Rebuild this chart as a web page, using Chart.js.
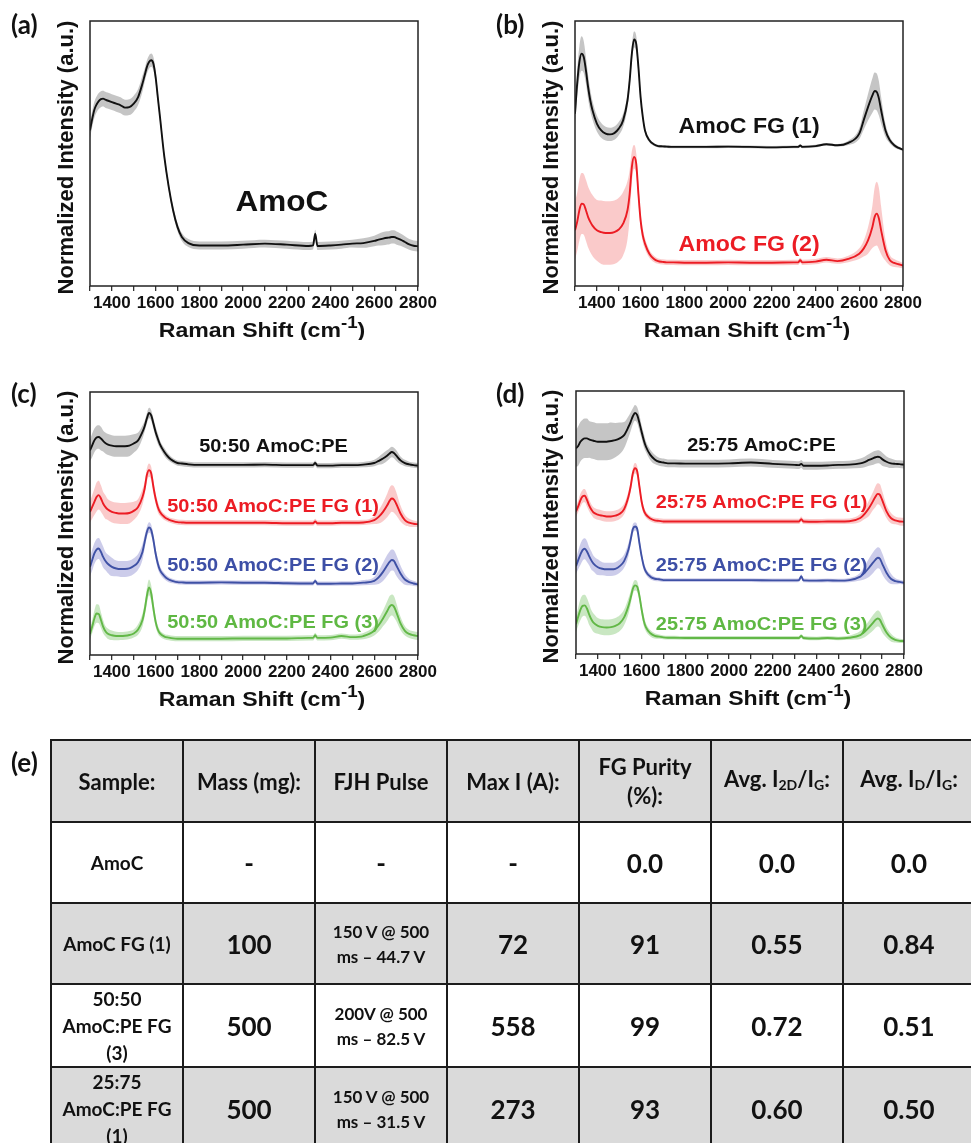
<!DOCTYPE html>
<html>
<head>
<meta charset="utf-8">
<script src="https://cdn.jsdelivr.net/npm/chart.js@4.4.1/dist/chart.umd.min.js"></script>
<style>
  html, body { margin: 0; padding: 0; background: #fff; }
  body { width: 971px; height: 1143px; position: relative; overflow: hidden; }
  .panel { position: absolute; }
  .panel canvas { display: block; }
  #tableWrap { position: absolute; left: 0; top: 700px; width: 971px; height: 443px; overflow: hidden; }
  #tableLetter { position: absolute; left: 11px; top: 46px; font: bold 26px Lato, "Open Sans", sans-serif; color: #111; }
  #summary { position: absolute; left: 50px; top: 39px; border-collapse: collapse; table-layout: fixed; width: 924px;
             font-family: Lato, "Open Sans", sans-serif; font-weight: bold; color: #111; }
  #summary col { width: 132px; }
  #summary td, #summary th { border: 2px solid #1c1c1c; text-align: center; vertical-align: middle; padding: 0;
             white-space: pre-line; overflow: hidden; }
  #summary tr { height: 81px; }
  #summary tr.head { height: 82px; }
  #summary tr.shade { background: #dadada; }
  #summary th { font-size: 22px; font-weight: bold; line-height: 29px; }
  #summary th sub { font-size: 14px; vertical-align: -3px; }
  .name { font-size: 19px; line-height: 27px; }
  .big { font-size: 26px; }
  .small { font-size: 17px; line-height: 25px; }
</style>
</head>
<body>
<div class="panel" style="left:0;top:0"><canvas id="pa" width="485" height="340"></canvas></div>
<div class="panel" style="left:485px;top:0"><canvas id="pb" width="486" height="340"></canvas></div>
<div class="panel" style="left:0;top:340px"><canvas id="pc" width="485" height="380"></canvas></div>
<div class="panel" style="left:485px;top:340px"><canvas id="pd" width="486" height="380"></canvas></div>
<div id="tableWrap">
  <div id="tableLetter">(e)</div>
  <table id="summary"></table>
</div>
<script>
// Raman shift grid (cm^-1), dense around the D, G and 2D bands
const shift = [
  1300, 1310, 1320, 1330, 1340, 1350, 1360, 1370, 1380,
  1400, 1420, 1440, 1460, 1480, 1500, 1520, 1540,
  1550, 1560, 1570, 1580, 1590, 1600, 1610,
  1620, 1640, 1660, 1680, 1700, 1720,
  1750, 1800, 1900, 2000, 2100, 2200, 2300,
  2320, 2330, 2340,
  2400, 2450, 2500, 2550, 2600,
  2620, 2640, 2660,
  2670, 2680, 2690, 2700,
  2720, 2740, 2760, 2780, 2800
];
const xTicks = [1400, 1600, 1800, 2000, 2200, 2400, 2600, 2800];

// (a) AmoC: mean spectrum and standard deviation (normalized, offset units)
const amoc = [
  58.7, 63, 66.5, 68.5, 69.8, 70.5, 70.7, 70.3, 70,
  69.4, 68.8, 68.2, 67.3, 67.5, 68.8, 71.3, 76.4,
  79.5, 82.6, 84.5, 85.2, 83.9, 78.9, 71.3,
  63.8, 48.7, 37.4, 28.6, 22.3, 18.5,
  16.2, 15.3, 15.3, 15.6, 16, 15.6, 15.1,
  15.3, 19.7, 15.1,
  15.3, 15.6, 16, 16.2, 17,
  17.5, 17.9, 18.2,
  18.3, 18.5, 18.5, 18.2,
  17.5, 16.6, 15.7, 15.2, 15
];
const amocErr = [
  3, 3, 3, 3, 3, 3, 3, 3, 3,
  3, 3, 3, 3, 3, 3, 3, 3,
  2.5, 2.5, 2.5, 2.5, 2.5, 2.5, 2,
  1.5, 1.5, 1.5, 1.5, 1.5, 1.5,
  1.5, 1.5, 1.5, 1.5, 1.5, 1.5, 1.5,
  1.5, 1.5, 1.5,
  1.5, 1.5, 1.5, 1.8, 2,
  2.2, 2.5, 2.5,
  2.5, 2.5, 2.5, 2.5,
  2.3, 2.2, 2, 2, 2
];

// (b) AmoC FG (1) and AmoC FG (2)
const amocFG1 = [
  65, 76.4, 84.5, 87.7, 86.4, 81.4, 75, 70, 66.3,
  61.3, 58.7, 57.5, 57.2, 57.7, 59.4, 62.5, 70,
  77.6, 87.7, 93, 91.4, 82.6, 71.3, 63.8,
  58.7, 55, 53.5, 52.8, 52.7, 52.6,
  52.5, 52.5, 52.5, 52.6, 52.5, 52.3, 52.5,
  52.5, 53, 52.5,
  52.8, 53.5, 53.1, 54, 57.5,
  62.5, 67.5, 71.9,
  73.6, 73.2, 70.7, 66.3,
  58.7, 55, 53.1, 52.1, 51.4
];
const amocFG1Err = [
  4, 5, 6, 6.5, 6, 5, 4.5, 4, 3.5,
  3, 2.8, 2.6, 2.5, 2.5, 2.5, 2.5, 2.5,
  2.5, 3, 3, 3, 2.5, 2, 1.5,
  1, 0.8, 0.6, 0.5, 0.5, 0.5,
  0.5, 0.5, 0.5, 0.5, 0.5, 0.5, 0.5,
  0.5, 0.5, 0.5,
  0.5, 0.5, 0.5, 0.8, 2,
  3.5, 5, 6.5,
  7, 7, 6.5, 5,
  2.5, 1.2, 0.8, 0.6, 0.5
];
const amocFG2 = [
  21, 24.2, 28.6, 31.1, 30.8, 28.6, 26, 24.2, 22.8,
  21, 20.3, 20, 20, 20.3, 21.3, 23.5, 28.6,
  34.8, 44.9, 48.7, 46.2, 34.8, 24.8, 19.1,
  16, 12.2, 10.3, 9.4, 9.1, 8.9,
  8.9, 8.8, 8.8, 8.9, 8.8, 8.8, 8.9,
  8.9, 9.7, 8.9,
  9.2, 9.9, 9.4, 10.2, 12.2,
  14.1, 17.2, 22.3,
  26, 27.3, 25.4, 21,
  13.5, 9.7, 8.7, 8.2, 7.7
];
const amocFG2Err = [
  11, 11, 11.5, 11.5, 11.5, 11.5, 11.5, 11.5, 11.5,
  11.5, 12, 12, 12, 12, 12, 12, 11,
  9, 6, 4.5, 4, 3.5, 3, 2.5,
  2, 1.5, 1.2, 1, 1, 1,
  1, 1, 1, 1, 1, 1, 1,
  1, 1, 1,
  1, 1, 1, 1.2, 2,
  3, 5, 8,
  11, 12, 11.5, 9,
  4, 2, 1.5, 1.2, 1
];

// (c) 50:50 AmoC:PE precursor and its three flash products
const pe5050 = [
  77.8, 79.7, 81.6, 82.7, 82.9, 82.3, 81.4, 80.6, 80.1,
  79.6, 79.4, 79.4, 79.4, 79.6, 80.4, 81.6, 84.8,
  87, 89.9, 92, 91.1, 88, 84.8, 82.3,
  80.1, 77.2, 75.1, 73.8, 73, 72.8,
  72.5, 72.3, 72.3, 72.3, 72.4, 72.2, 72.2,
  72.2, 73, 72,
  72, 72.2, 72.2, 72.4, 73,
  73.8, 74.7, 75.9,
  76.6, 77.2, 76.8, 75.9,
  74, 73, 72.5, 72.2, 72
];
const pe5050Err = [
  4, 4.5, 4.5, 4.5, 4.5, 4.5, 4, 4, 4,
  4, 4, 4, 4, 4, 3.5, 3, 2.5,
  2, 2, 2, 2, 2, 2, 2,
  1.5, 1.5, 1.2, 1, 1, 1,
  1, 1, 1, 1, 1, 1, 1,
  1, 1, 1,
  1, 1, 1, 1, 1.2,
  1.5, 2, 2,
  2, 2, 2, 2,
  1.5, 1.2, 1, 1, 1
];
const pe5050FG1 = [
  54.4, 56.3, 58.2, 60.1, 60.8, 59.5, 57.6, 56.3, 55.4,
  54.4, 54, 53.8, 53.8, 54, 54.8, 56.3, 60.1,
  63.3, 68.4, 70.3, 69, 63.9, 59.5, 56.3,
  54.4, 52.5, 51.5, 50.9, 50.5, 50.4,
  50.3, 50.3, 50.3, 50.3, 50.3, 50.1, 50.1,
  50.1, 50.8, 50.1,
  50.1, 50.3, 50.3, 50.4, 51.3,
  52.5, 54.4, 57,
  58.6, 59.5, 59.1, 57.6,
  53.8, 51.3, 50.3, 49.9, 49.7
];
const pe5050FG1Err = [
  4, 4.5, 5, 5.5, 5.5, 5, 4.5, 4.5, 4,
  4, 4, 4, 4, 4, 3.5, 3, 3,
  2.5, 2.5, 2.5, 2.5, 2.5, 2, 2,
  1.5, 1.2, 1, 1, 1, 1,
  1, 1, 1, 1, 1, 1, 1,
  1, 1, 1,
  1, 1, 1, 1, 1.5,
  2.5, 3.5, 4.5,
  5, 5, 5, 4.5,
  3, 2, 1.5, 1.2, 1
];
const pe5050FG2 = [
  33.5, 36.1, 38.6, 40.1, 40.5, 39.2, 37.3, 35.8, 34.8,
  33.5, 32.9, 32.7, 32.7, 32.9, 33.8, 35.4, 39.2,
  43, 46.8, 48.5, 47.5, 43.7, 38.6, 34.8,
  32.3, 30, 28.7, 28.1, 27.7, 27.6,
  27.5, 27.5, 27.6, 27.5, 27.5, 27.3, 27.2,
  27.2, 28.2, 27.1,
  27.1, 27.2, 27.2, 27.5, 28.2,
  29.5, 31.6, 34.2,
  35.4, 36.1, 35.8, 34.2,
  31, 28.7, 27.7, 27.2, 26.8
];
const pe5050FG2Err = [
  3.5, 4, 4, 4, 4, 4, 4, 3.5, 3.5,
  3.5, 3, 3, 3, 3, 3, 3, 3,
  2.5, 2, 2, 2, 2, 2, 2,
  1.5, 1.2, 1, 0.8, 0.8, 0.8,
  0.8, 0.8, 0.8, 0.8, 0.8, 0.8, 0.8,
  0.8, 0.8, 0.8,
  0.8, 0.8, 0.8, 1, 1.5,
  2.5, 3.5, 4,
  4, 4, 4, 4,
  3, 2, 1.2, 1, 0.8
];
const pe5050FG3 = [
  8, 10.8, 13.9, 15.8, 15.6, 13.3, 10.8, 9.1, 8.2,
  7.5, 7.2, 7.2, 7.3, 7.6, 8.2, 9.7, 13.3,
  17.1, 22.4, 25.7, 23.4, 17.7, 12.7, 9.7,
  8.2, 7, 6.6, 6.3, 6.2, 6.2,
  6.2, 6.2, 6.2, 6.3, 6.3, 6.3, 6.5,
  6.5, 7.5, 6.5,
  6.6, 7.2, 6.8, 7.2, 9.2,
  11.3, 13.9, 16.8,
  18.4, 19, 18.4, 16.5,
  12, 9.2, 8, 7.5, 7.2
];
const pe5050FG3Err = [
  2, 2.5, 3, 3.5, 3.5, 3, 2.5, 2, 2,
  1.8, 1.6, 1.5, 1.5, 1.5, 1.5, 2, 2.5,
  2.5, 3, 3, 3, 2.5, 2, 1.5,
  1.2, 1, 1, 1, 1, 1,
  1, 1, 1, 1, 1, 1, 1,
  1, 1, 1,
  1, 1, 1, 1.2, 1.8,
  2.5, 3, 3.8,
  4, 4, 4, 3.5,
  2.5, 1.8, 1.5, 1.5, 1.5
];

// (d) 25:75 AmoC:PE precursor and its three flash products
const pe2575 = [
  78.2, 79.1, 80.7, 81.6, 82, 82, 81.6, 81.3, 81.1,
  80.7, 80.7, 80.7, 81, 81.3, 82, 83.2, 86.4,
  88.3, 90.4, 91.7, 90.8, 87.9, 84.5, 81.3,
  78.8, 75.7, 74, 73.1, 72.8, 72.5,
  72.5, 72.4, 72.4, 72.5, 72.8, 72.3, 71.9,
  71.8, 72.3, 71.6,
  71.6, 71.7, 71.9, 72, 72.5,
  73, 73.8, 74.5,
  74.8, 75, 74.8, 74.1,
  73.1, 72.5, 72.3, 72.2, 72
];
const pe2575Err = [
  7, 7.5, 7.5, 7.5, 7.5, 7.5, 7, 7, 7,
  7, 7, 7, 7, 6.5, 6, 5, 4,
  3.5, 3, 3, 3, 3, 2.5, 2.5,
  2, 2, 1.8, 1.5, 1.5, 1.5,
  1.5, 1.5, 1.5, 1.5, 1.5, 1.5, 1.5,
  1.5, 1.5, 1.5,
  1.5, 1.5, 1.5, 1.5, 1.8,
  2, 2.2, 2.5,
  2.5, 2.5, 2.5, 2.5,
  2, 1.8, 1.5, 1.5, 1.5
];
const pe2575FG1 = [
  54.2, 56.1, 58.4, 59.9, 60.2, 58.6, 56.5, 54.9, 53.8,
  53, 52.6, 52.3, 52.3, 52.6, 53.3, 55.1, 59.9,
  63.7, 68.7, 70.6, 69.4, 63.7, 58, 54.6,
  53, 51.5, 50.8, 50.6, 50.4, 50.4,
  50.4, 50.4, 50.4, 50.4, 50.4, 50.4, 50.4,
  50.4, 51.3, 50.4,
  50.3, 50.4, 50.4, 50.5, 51.7,
  53.3, 55.5, 58.4,
  59.9, 60.9, 60.5, 58.6,
  54.2, 51.7, 50.8, 50.4, 50.3
];
const pe2575FG1Err = [
  2, 2.2, 2.5, 2.5, 2.5, 2.5, 2.2, 2, 2,
  2, 2, 2, 2, 2, 2, 2, 2,
  2, 2, 2, 2, 2, 1.8, 1.5,
  1.2, 1, 1, 1, 1, 1,
  1, 1, 1, 1, 1, 1, 1,
  1, 1, 1,
  1, 1, 1, 1, 1.5,
  2, 3, 3.5,
  4, 4, 4, 3.5,
  2.5, 2, 1.5, 1.5, 1.5
];
const pe2575FG2 = [
  33.4, 35.7, 37.8, 39.5, 40, 39, 37.2, 35.6, 34.4,
  33, 32.4, 32.2, 32.2, 32.4, 33.4, 35.3, 39.7,
  43.5, 47.5, 48.5, 47.5, 42.2, 37.2, 33.4,
  31.3, 29.4, 28.6, 28.4, 28.1, 28.1,
  28.1, 28.1, 28.1, 28.1, 28.1, 28, 28,
  28.1, 29.6, 28,
  27.9, 28, 27.9, 28.1, 29.4,
  30.9, 32.8, 34.9,
  35.9, 36.6, 36.2, 34.4,
  30.9, 28.6, 27.7, 27.4, 27.1
];
const pe2575FG2Err = [
  3, 3.5, 4, 4, 4, 4, 3.5, 3.5, 3,
  3, 2.5, 2.5, 2.5, 2.5, 2.5, 2.5, 2.5,
  2, 1.8, 1.5, 1.5, 1.5, 1.5, 1.5,
  1.2, 1, 0.8, 0.7, 0.7, 0.7,
  0.7, 0.7, 0.7, 0.7, 0.7, 0.7, 0.7,
  0.7, 0.7, 0.7,
  0.7, 0.7, 0.7, 0.8, 1.5,
  2.5, 3.5, 4,
  4, 4, 4, 4,
  3, 2, 1.2, 0.8, 0.7
];
const pe2575FG3 = [
  11.3, 14.2, 16.8, 18.3, 18.5, 17.3, 15.1, 13.2, 11.9,
  10.7, 10.2, 10.1, 10.2, 10.7, 11.7, 13.9, 18.3,
  21.4, 24.8, 26.1, 25.6, 22.1, 17, 12.6,
  10.1, 7.9, 6.9, 6.6, 6.3, 6.2,
  6.2, 6.1, 6.1, 6.1, 6.1, 6.1, 6.1,
  6.1, 6.9, 6.1,
  5.9, 6.1, 5.9, 6.2, 7.2,
  8.4, 10.1, 12,
  13, 13.5, 13, 11.3,
  8.2, 6.3, 5.4, 5, 4.9
];
const pe2575FG3Err = [
  3, 3.5, 4, 4, 4, 4, 4, 3.5, 3.5,
  3, 3, 3, 3, 3, 3, 3, 3,
  2.5, 2, 2, 2, 2, 2, 2,
  1.5, 1.2, 1, 0.8, 0.7, 0.7,
  0.7, 0.7, 0.7, 0.7, 0.7, 0.7, 0.7,
  0.7, 0.7, 0.7,
  0.7, 0.7, 0.7, 0.8, 1.5,
  2, 2.5, 3,
  3, 3, 3, 3,
  2, 1.5, 1, 0.8, 0.7
];

// (e) summary table
const tableHeaders = ['Sample:', 'Mass (mg):', 'FJH Pulse', 'Max I (A):', 'FG Purity\n(%):',
                      'Avg. I<sub>2D</sub>/I<sub>G</sub>:', 'Avg. I<sub>D</sub>/I<sub>G</sub>:'];
const samples    = ['AmoC', 'AmoC FG (1)', '50:50\nAmoC:PE FG\n(3)', '25:75\nAmoC:PE FG\n(1)'];
const massMg     = ['-', '100', '500', '500'];
const pulses     = ['-', '150 V @ 500\nms \u2013 44.7 V', '200V @ 500\nms \u2013 82.5 V', '150 V @ 500\nms \u2013 31.5 V'];
const maxCurrent = ['-', '72', '558', '273'];
const purity     = ['0.0', '91', '99', '93'];
const ratio2DG   = ['0.0', '0.55', '0.72', '0.60'];
const ratioDG    = ['0.0', '0.84', '0.51', '0.50'];

// ---------------------------------------------------------------------------
const FONT = '"Liberation Sans", Arial, Helvetica, sans-serif';
const LETTER_FONT = 'Lato, "Open Sans", sans-serif';
const STYLE = {
  black: { line: '#111111', band: 'rgba(140,140,140,0.5)', text: '#111111' },
  red:   { line: '#ec1c24', band: 'rgba(240,90,90,0.32)',  text: '#ec1c24' },
  blue:  { line: '#3f51a5', band: 'rgba(95,95,190,0.32)',  text: '#3d4fa6' },
  green: { line: '#62b847', band: 'rgba(100,185,80,0.35)', text: '#5fb843' }
};

const toPoints = (vals, errs, sign) => vals.map((v, i) => ({ x: shift[i], y: v + sign * (errs ? errs[i] : 0) }));

function seriesDatasets(vals, errs, style) {
  const common = { pointRadius: 0, cubicInterpolationMode: 'monotone', spanGaps: true };
  return [
    Object.assign({ data: toPoints(vals, errs, 1), borderWidth: 0, borderColor: 'transparent', fill: false, order: 2 }, common),
    Object.assign({ data: toPoints(vals, errs, -1), borderWidth: 0, borderColor: 'transparent', fill: '-1',
                    backgroundColor: STYLE[style].band, order: 2 }, common),
    Object.assign({ data: toPoints(vals, null, 0), borderWidth: 1.9, borderColor: STYLE[style].line, fill: false, order: 1 }, common)
  ];
}

// stretched text helper (the figure's lettering is slightly wide)
function wideText(ctx, text, x, y, sx) {
  ctx.save(); ctx.translate(x, y); ctx.scale(sx, 1); ctx.fillText(text, 0, 0); ctx.restore();
}

const decor = {
  id: 'decor',
  afterDraw(chart, args, o) {
    const { ctx, chartArea: a } = chart;
    const xs = chart.scales.x, ys = chart.scales.y;
    ctx.save();
    // plot frame
    ctx.strokeStyle = '#222'; ctx.lineWidth = 1.5;
    ctx.strokeRect(a.left, a.top, a.right - a.left, a.bottom - a.top);
    // in-plot sample labels
    ctx.textAlign = 'center'; ctx.textBaseline = 'middle';
    for (const n of o.notes) {
      ctx.font = `bold ${n.size}px ${FONT}`;
      ctx.fillStyle = STYLE[n.style].text;
      wideText(ctx, n.text, xs.getPixelForValue(n.x), ys.getPixelForValue(n.y), 1.05);
    }
    // x-axis title with superscript
    ctx.fillStyle = '#111'; ctx.textAlign = 'left'; ctx.textBaseline = 'alphabetic';
    const SX = 1.1;
    const main = 'Raman Shift (cm', sup = '-1', tail = ')';
    ctx.font = `bold 21px ${FONT}`;
    const w1 = ctx.measureText(main).width * SX, w3 = ctx.measureText(tail).width * SX;
    ctx.font = `bold 17px ${FONT}`;
    const w2 = ctx.measureText(sup).width * SX;
    const x0 = (a.left + a.right) / 2 + 8 - (w1 + w2 + w3) / 2;
    const yb = a.bottom + 51;
    ctx.font = `bold 21px ${FONT}`; wideText(ctx, main, x0, yb, SX);
    ctx.font = `bold 17px ${FONT}`; wideText(ctx, sup, x0 + w1, yb - 9, SX);
    ctx.font = `bold 21px ${FONT}`; wideText(ctx, tail, x0 + w1 + w2, yb, SX);
    // y-axis title
    ctx.save();
    ctx.translate(67, (a.top + a.bottom) / 2 + 4);
    ctx.rotate(-Math.PI / 2);
    ctx.textAlign = 'center'; ctx.textBaseline = 'middle';
    ctx.font = `bold 22px ${FONT}`;
    ctx.fillText('Normalized Intensity (a.u.)', 0, 0);
    ctx.restore();
    // panel letter
    ctx.font = `bold 26px ${LETTER_FONT}`;
    ctx.textAlign = 'left'; ctx.textBaseline = 'middle';
    ctx.fillText(o.letter, 11, o.letterY);
    ctx.restore();
  }
};

function makePanel(id, area, letter, letterY, series, notes) {
  const canvas = document.getElementById(id);
  const W = canvas.width, H = canvas.height;
  const datasets = [];
  series.forEach(s => datasets.push(...seriesDatasets(s.vals, s.errs, s.style)));
  return new Chart(canvas, {
    type: 'line',
    data: { datasets },
    plugins: [decor],
    options: {
      responsive: false, animation: false, devicePixelRatio: 1,
      layout: { padding: { top: area.t, right: W - area.r, left: 0, bottom: 0 } },
      plugins: { legend: { display: false }, tooltip: { enabled: false },
                 decor: { letter, letterY, notes } },
      scales: {
        x: {
          type: 'linear', min: 1300, max: 2800,
          afterFit: s => { s.height = H - area.b; },
          afterBuildTicks: s => { s.ticks = []; for (let v = 1300; v <= 2800; v += 100) s.ticks.push({ value: v }); },
          ticks: { autoSkip: false, maxRotation: 0, padding: 2, color: '#111',
                   font: { family: FONT, size: 17, weight: 'bold' },
                   callback: v => xTicks.includes(v) ? String(v) : '' },
          grid: { display: true, drawOnChartArea: false, drawTicks: true, tickLength: 5, color: '#333', lineWidth: 1.3 },
          border: { display: false }
        },
        y: {
          min: 0, max: 100,
          afterFit: s => { s.width = area.l; },
          ticks: { display: false }, grid: { display: false }, border: { display: false }
        }
      }
    }
  });
}

Chart.defaults.font.family = FONT;

makePanel('pa', { l: 90, t: 21, r: 418, b: 286 }, '(a)', 26,
  [{ vals: amoc, errs: amocErr, style: 'black' }],
  [{ text: 'AmoC', x: 2178, y: 31.3, size: 30, style: 'black' }]);

makePanel('pb', { l: 90, t: 21, r: 418, b: 286 }, '(b)', 26,
  [{ vals: amocFG1, errs: amocFG1Err, style: 'black' },
   { vals: amocFG2, errs: amocFG2Err, style: 'red' }],
  [{ text: 'AmoC FG (1)', x: 2096, y: 60, size: 22, style: 'black' },
   { text: 'AmoC FG (2)', x: 2096, y: 15.5, size: 22, style: 'red' }]);

makePanel('pc', { l: 90, t: 52, r: 418, b: 315 }, '(c)', 55,
  [{ vals: pe5050, errs: pe5050Err, style: 'black' },
   { vals: pe5050FG1, errs: pe5050FG1Err, style: 'red' },
   { vals: pe5050FG2, errs: pe5050FG2Err, style: 'blue' },
   { vals: pe5050FG3, errs: pe5050FG3Err, style: 'green' }],
  [{ text: '50:50 AmoC:PE', x: 2139, y: 79.1, size: 19, style: 'black' },
   { text: '50:50 AmoC:PE FG (1)', x: 2137, y: 56.3, size: 19, style: 'red' },
   { text: '50:50 AmoC:PE FG (2)', x: 2137, y: 33.8, size: 19, style: 'blue' },
   { text: '50:50 AmoC:PE FG (3)', x: 2137, y: 12.2, size: 19, style: 'green' }]);

makePanel('pd', { l: 91, t: 51, r: 419, b: 314 }, '(d)', 55,
  [{ vals: pe2575, errs: pe2575Err, style: 'black' },
   { vals: pe2575FG1, errs: pe2575FG1Err, style: 'red' },
   { vals: pe2575FG2, errs: pe2575FG2Err, style: 'blue' },
   { vals: pe2575FG3, errs: pe2575FG3Err, style: 'green' }],
  [{ text: '25:75 AmoC:PE', x: 2148, y: 79.1, size: 19, style: 'black' },
   { text: '25:75 AmoC:PE FG (1)', x: 2149, y: 57.4, size: 19, style: 'red' },
   { text: '25:75 AmoC:PE FG (2)', x: 2149, y: 33.5, size: 19, style: 'blue' },
   { text: '25:75 AmoC:PE FG (3)', x: 2149, y: 11, size: 19, style: 'green' }]);

// summary table
(function buildTable() {
  const table = document.getElementById('summary');
  const cg = document.createElement('colgroup');
  tableHeaders.forEach(() => cg.appendChild(document.createElement('col')));
  table.appendChild(cg);
  const head = document.createElement('tr');
  head.className = 'head shade';
  tableHeaders.forEach(h => { const th = document.createElement('th'); th.innerHTML = h; head.appendChild(th); });
  table.appendChild(head);
  samples.forEach((name, i) => {
    const tr = document.createElement('tr');
    if (i % 2 === 1) tr.className = 'shade';
    const cells = [
      [name, 'name'], [massMg[i], 'big'], [pulses[i], pulses[i] === '-' ? 'big' : 'small'],
      [maxCurrent[i], 'big'], [purity[i], 'big'], [ratio2DG[i], 'big'], [ratioDG[i], 'big']
    ];
    cells.forEach(([txt, cls]) => { const td = document.createElement('td'); td.className = cls; td.textContent = txt; tr.appendChild(td); });
    table.appendChild(tr);
  });
})();
</script>
</body>
</html>
